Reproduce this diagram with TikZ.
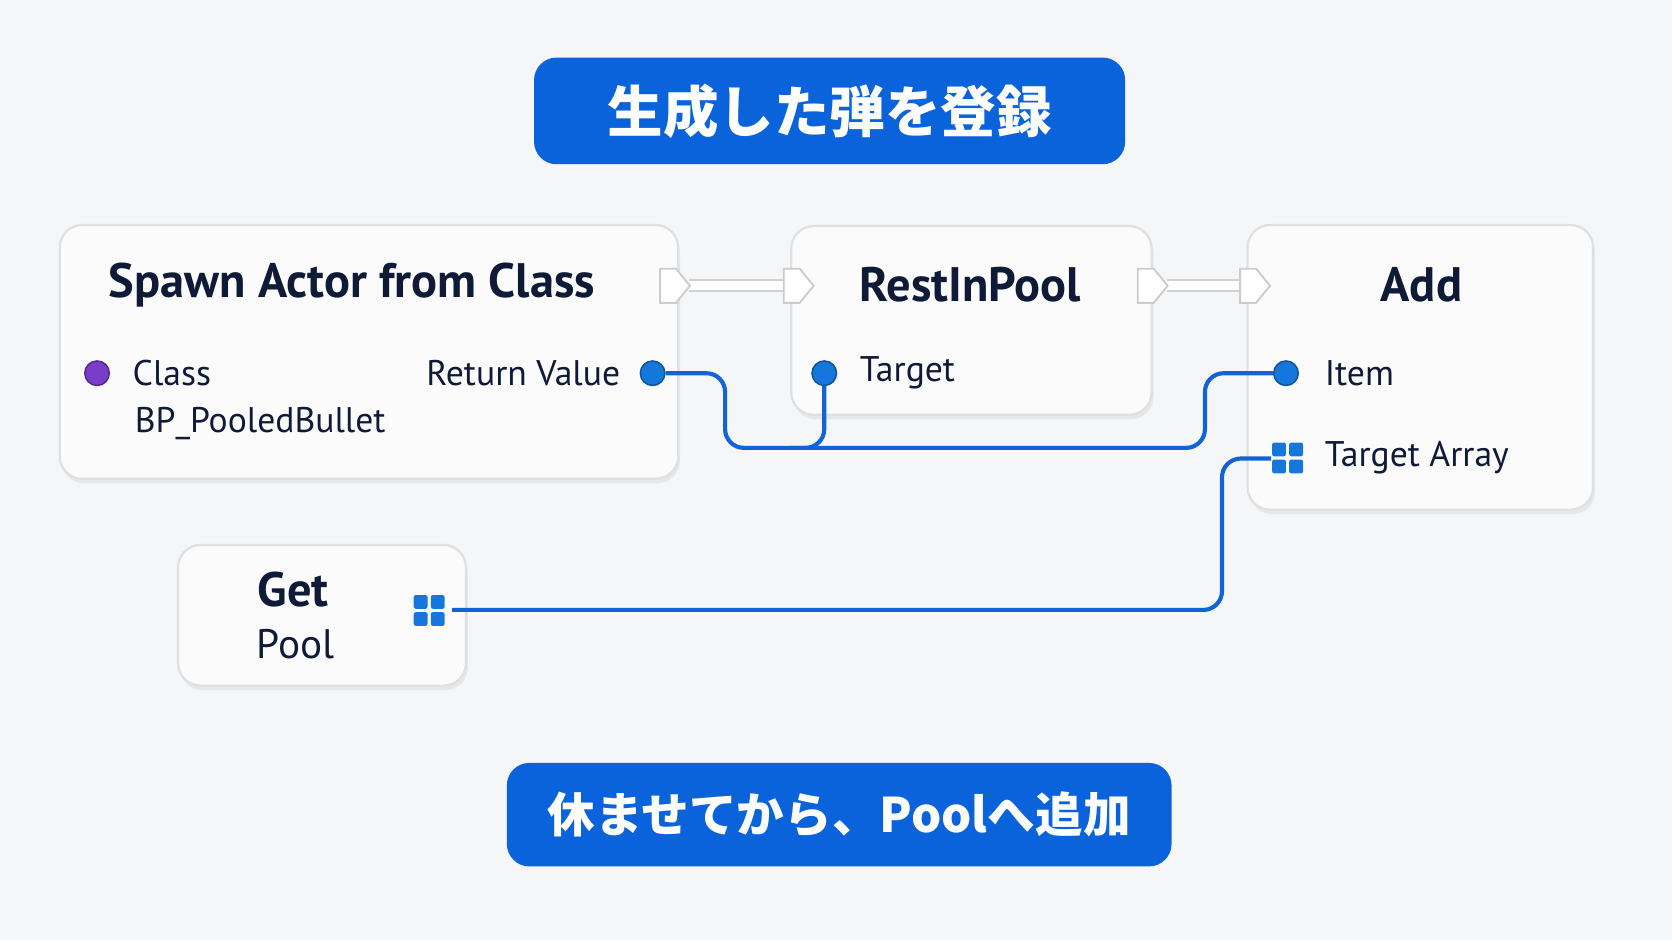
\documentclass[tikz,border=0pt]{standalone}
\usepackage{fontspec}
\setmainfont{PT Sans}
\newfontfamily\cjk{Noto Sans CJK JP}
\usetikzlibrary{shadows}
\definecolor{bg}{HTML}{F5F6F8}
\definecolor{banner}{HTML}{0B63DB}
\definecolor{wire}{HTML}{1262D8}
\definecolor{pinblue}{HTML}{1577DC}
\definecolor{pinpurple}{HTML}{7A3CCB}
\definecolor{ink}{HTML}{0E1A36}
\tikzset{
  banner/.style={fill=banner, rounded corners=6pt, text=white, font=\cjk\fontsize{12.7}{15}\selectfont\bfseries},
  box/.style={fill=white!60!bg, draw=black!12, rounded corners=6pt, line width=0.6pt, drop shadow={opacity=0.12, shadow xshift=0.5pt, shadow yshift=-1.2pt}},
  title/.style={text=ink, font=\fontsize{12.9}{15}\selectfont\bfseries},
  pinlbl/.style={text=ink, font=\fontsize{9.5}{11}\selectfont},
  pin/.style={circle, inner sep=0pt, minimum size=0.23cm, fill=pinblue, draw=pinblue!70!black, line width=0.4pt},
  wire/.style={draw=wire, line width=1.1pt, rounded corners=5pt},
  exec/.style={fill=white, draw=black!20, line width=0.5pt},
  execwire/.style={draw=black!18, line width=0.5pt, double=white, double distance=2.4pt},
}
\newcommand{\gridpin}[2]{%
  \foreach \dx in {0,1} \foreach \dy in {0,1}
    \fill[pinblue, rounded corners=0.6pt] (#1+\dx*16-14,#2+\dy*16-14) rectangle ++(13,13);}
\newcommand{\execpin}[2]{%
  \draw[exec] (#1-13,#2-16) -- (#1+2,#2-16) -- (#1+15,#2) -- (#1+2,#2+16) -- (#1-13,#2+16) -- cycle;}
\begin{document}
\begin{tikzpicture}[x=0.01cm, y=-0.01cm]
  \fill[bg] (0,0) rectangle (1568,882);
  \useasboundingbox (0,0) rectangle (1568,882);

  % banners
  \node[banner, minimum width=5.54cm, minimum height=1cm, font=\cjk\fontsize{14.8}{17}\selectfont\bfseries] (top) at (778,104) {生成した弾を登録};
  \node[banner, minimum width=6.23cm, minimum height=0.97cm] (bottom) at (787,764) {休ませてから、Poolへ追加};

  % nodes
  \draw[box] (56,211) rectangle (636,449);
  \draw[box] (742,212) rectangle (1080,389);
  \draw[box] (1170,211) rectangle (1494,478);
  \draw[box] (167,511) rectangle (437,643);

  \node[title] (spawn) at (330,267) {Spawn Actor from Class};
  \node[title] (rest) at (910,267) {RestInPool};
  \node[title] (add) at (1333,267) {Add};
  \node[title] (get) at (275,553) {Get};
  \node[pinlbl, font=\fontsize{11}{13}\selectfont] (pool) at (277,604) {Pool};

  % exec pins
  \draw[execwire] (646,268) -- (742,268);
  \draw[execwire] (1094,268) -- (1172,268);
  \execpin{632}{268}
  \execpin{748}{268}
  \execpin{1080}{268}
  \execpin{1176}{268}

  % data pins
  \node[pin, fill=pinpurple, draw=pinpurple!70!black] (cls) at (91,350) {};
  \node[pinlbl, anchor=west] at (112,350) {Class};
  \node[pinlbl, anchor=west] at (114,397) {BP\_PooledBullet};
  \node[pin] (rv) at (612,350) {};
  \node[pinlbl, anchor=east] at (594,350) {Return Value};
  \node[pin] (tgt) at (773,350) {};
  \node[pinlbl, anchor=west] at (794,350) {Target};
  \node[pin] (item) at (1206,350) {};
  \node[pinlbl, anchor=west] at (1230,350) {Item};
  \gridpin{1207}{429}
  \coordinate (arr) at (1192,430);
  \node[pinlbl, anchor=west] at (1230,429) {Target Array};
  \gridpin{402}{572}
  \coordinate (getout) at (424,572);

  % wires
  \draw[wire] (rv) -- (680,350) -- (680,420) -- (1130,420) -- (1130,350) -- (item);
  \draw[wire] (tgt) -- (773,420) -- (740,420);
  \draw[wire] (getout) -- (1146,572) -- (1146,430) -- (arr);
\end{tikzpicture}
\end{document}
